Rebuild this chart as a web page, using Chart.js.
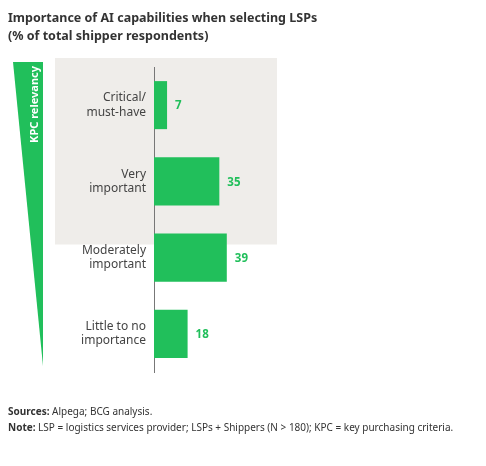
<!DOCTYPE html>
<html>
<head>
<meta charset="utf-8">
<script src="https://cdn.jsdelivr.net/npm/chart.js@4"></script>
<style>
  html, body { margin: 0; padding: 0; background: #fff; }
  #wrap { width: 486px; height: 466px; }
</style>
</head>
<body>
<div id="wrap"><canvas id="chart"></canvas></div>
<script>
const categories = [['Critical/', 'must-have'], ['Very', 'important'], ['Moderately', 'important'], ['Little to no', 'importance']];
const shares = [7, 35, 39, 18];

const green = '#21bf5b';
const font = '"Noto Sans", "Open Sans", sans-serif';

const decor = {
  id: 'decor',
  beforeDraw(chart) {
    const c = chart.ctx, a = chart.chartArea, y = chart.scales.y;
    c.save();
    // grey highlight box behind the first two rows
    const top = a.top - 9;
    const bot = (y.getPixelForValue(1) + y.getPixelForValue(2)) / 2 + 25;
    c.fillStyle = '#efedea';
    c.fillRect(55, top, 222, bot - top);
    // KPC relevancy wedge
    c.fillStyle = green;
    c.beginPath();
    c.moveTo(13, 62); c.lineTo(43, 62); c.lineTo(43, 366); c.closePath();
    c.fill();
    c.translate(35, 66);
    c.rotate(-Math.PI / 2);
    c.fillStyle = '#fff';
    c.font = 'bold 11px ' + font;
    c.textAlign = 'right';
    c.textBaseline = 'middle';
    c.fillText('KPC relevancy', 0, 0);
    c.restore();
  },
  afterDraw(chart) {
    const c = chart.ctx;
    c.save();
    c.fillStyle = '#333';
    c.textBaseline = 'alphabetic';
    c.font = 'bold 12.5px ' + font;
    c.fillText('Importance of AI capabilities when selecting LSPs', 8, 22);
    c.fillText('(% of total shipper respondents)', 8, 40);
    c.font = 'bold 10px ' + font;
    c.fillText('Sources:', 8, 415);
    let w = c.measureText('Sources: ').width;
    c.font = '10px ' + font;
    c.fillText('Alpega; BCG analysis.', 8 + w, 415);
    c.font = 'bold 10px ' + font;
    c.fillText('Note:', 8, 431);
    w = c.measureText('Note: ').width;
    c.font = '10px ' + font;
    c.fillText('LSP = logistics services provider; LSPs + Shippers (N > 180); KPC = key purchasing criteria.', 8 + w, 431);
    // value labels
    const meta = chart.getDatasetMeta(0);
    c.font = 'bold 11.5px ' + font;
    c.fillStyle = green;
    c.textBaseline = 'middle';
    meta.data.forEach((bar, i) => {
      c.fillText(String(shares[i]), bar.x + 8, bar.y + 1);
    });
    c.restore();
  }
};

new Chart(document.getElementById('chart'), {
  type: 'bar',
  data: {
    labels: categories,
    datasets: [{ data: shares, backgroundColor: green, barPercentage: 0.63, categoryPercentage: 1 }]
  },
  options: {
    indexAxis: 'y',
    responsive: true,
    maintainAspectRatio: false,
    animation: false,
    layout: { padding: { top: 67, bottom: 94, left: 0, right: 220 } },
    plugins: { legend: { display: false }, tooltip: { enabled: false } },
    scales: {
      x: { display: false, min: 0, max: 60 },
      y: {
        afterFit(s) { s.width = 154; },
        grid: { display: false, drawTicks: false },
        border: { color: '#777', width: 1 },
        ticks: { color: '#444', padding: 8, font: { family: font, size: 12 } }
      }
    }
  },
  plugins: [decor]
});
</script>
</body>
</html>
